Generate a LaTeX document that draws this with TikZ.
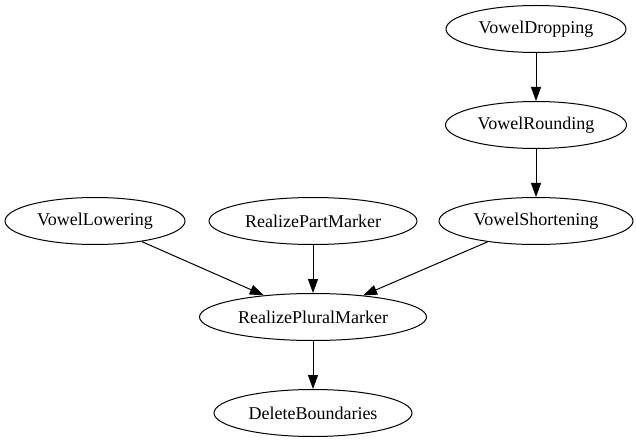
\documentclass[tikz,border=0pt]{standalone}
\usepackage{fontspec}
\setmainfont{Liberation Serif}
\usetikzlibrary{shapes.geometric,arrows.meta}
\begin{document}
\begin{tikzpicture}[x=1pt,y=-1pt,
  nd/.style={ellipse,draw,line width=1pt,inner sep=0pt,minimum height=47pt,font=\fontsize{18}{20}\selectfont},
  edge/.style={line width=1pt,-{Triangle[length=14pt,width=10pt]}}]
\useasboundingbox (0,0) rectangle (636,443);
\node[nd,minimum width=180pt] (vd) at (536,29) {VowelDropping};
\node[nd,minimum width=181pt] (vr) at (536,125) {VowelRounding};
\node[nd,minimum width=194pt] (vs) at (536,221) {VowelShortening};
\node[nd,minimum width=180pt] (vl) at (95,221) {VowelLowering};
\node[nd,minimum width=208pt] (rp) at (313,221) {RealizePartMarker};
\node[nd,minimum width=227pt] (rpm) at (313,317) {RealizePluralMarker};
\node[nd,minimum width=198pt] (db) at (313,413) {DeleteBoundaries};
\draw[edge] (vd) -- (vr);
\draw[edge] (vr) -- (vs);
\draw[edge] (vl) -- (rpm);
\draw[edge] (rp) -- (rpm);
\draw[edge] (vs) -- (rpm);
\draw[edge] (rpm) -- (db);
\end{tikzpicture}
\end{document}
